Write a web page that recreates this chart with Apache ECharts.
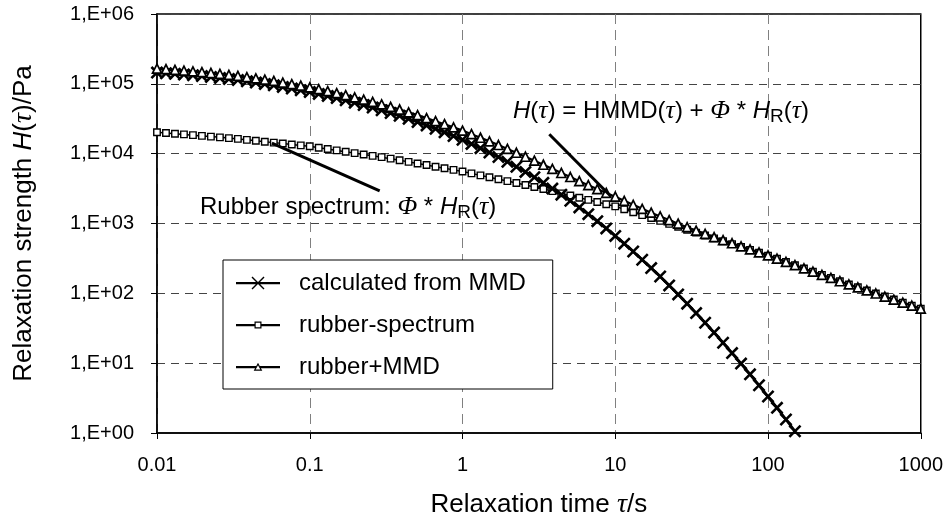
<!DOCTYPE html>
<html>
<head>
<meta charset="utf-8">
<script src="https://cdn.jsdelivr.net/npm/echarts@6/dist/echarts.min.js"></script>
<style>
  html, body { margin: 0; padding: 0; background: #fff; }
  #chart { width: 946px; height: 524px; }
</style>
</head>
<body>
<div id="chart"></div>
<script>
// relaxation times (s), log spaced
const tau = [
  0.01, 0.01145, 0.01311, 0.01501, 0.01719, 0.01968, 0.02254, 0.02581, 0.02955, 0.03384, 0.03875, 0.04437, 0.0508, 0.05817, 0.06661, 0.07627, 0.08733,
  0.1, 0.1145, 0.1311, 0.1501, 0.1719, 0.1968, 0.2254, 0.2581, 0.2955, 0.3384, 0.3875, 0.4437, 0.508, 0.5817, 0.6661, 0.7627, 0.8733,
  1, 1.145, 1.311, 1.501, 1.719, 1.968, 2.254, 2.581, 2.955, 3.384, 3.875, 4.437, 5.08, 5.817, 6.661, 7.627, 8.733,
  10, 11.45, 13.11, 15.01, 17.19, 19.68, 22.54, 25.81, 29.55, 33.84, 38.75, 44.37, 50.8, 58.17, 66.61, 76.27, 87.33,
  100, 114.5, 131.1, 150.1, 171.9, 196.8, 225.4, 258.1, 295.5, 338.4, 387.5, 443.7, 508, 581.7, 666.1, 762.7, 873.3,
  1000
]

// calculated from MMD (ends below 1 Pa)
const mmd = [
  145000, 142000, 139000, 136000, 133000, 129000, 125600, 121700, 117600,
  113400, 109000, 104400, 99800, 95100, 90400, 85700, 81000,
  76300, 71700, 67100, 62600, 58200, 53800, 49700, 45700, 41900,
  38200, 34800, 31500, 28400, 25400, 22700, 20200, 17900,
  15800, 13800, 12000, 10400, 8950, 7650, 6490, 5480, 4590,
  3820, 3160, 2590, 2110, 1700, 1360, 1080, 850,
  664, 515, 397, 303, 230, 174, 130, 96.5, 71.2,
  52.1, 37.9, 27.4, 19.6, 13.95, 9.86, 6.92, 4.82,
  3.33, 2.29, 1.56, 1.06
]

// rubber spectrum
const rubber = [
  20300, 19800, 19320, 18860, 18410, 17970, 17550, 17130, 16720,
  16270, 15780, 15300, 14840, 14390, 13960, 13540, 13130,
  12740, 12180, 11650, 11140, 10650, 10180, 9740, 9310, 8910,
  8480, 8050, 7630, 7240, 6870, 6510, 6180, 5860,
  5560, 5220, 4890, 4590, 4310, 4050, 3800, 3560, 3340,
  3120, 2910, 2700, 2520, 2340, 2180, 2030, 1890,
  1760, 1600, 1450, 1320, 1200, 1090, 987, 897, 815,
  740, 673, 612, 557, 507, 461, 419, 381,
  347, 312, 281, 253, 227, 204, 184, 166, 149,
  134, 122, 110, 99.4, 90.0, 81.4, 73.6, 66.6, 60.3
]

// rubber + MMD
const total = [
  165000, 162000, 158000, 155000, 151000, 147000, 143000, 139000, 134000,
  130000, 125000, 120000, 115000, 110000, 104000, 99200, 94100,
  89000, 83900, 78800, 73700, 68900, 64000, 59400, 55000, 50800,
  46700, 42900, 39100, 35600, 32300, 29200, 26400, 23800,
  21400, 19000, 16900, 15000, 13300, 11700, 10300, 9040, 7930,
  6940, 6070, 5290, 4630, 4040, 3540, 3110, 2740,
  2420, 2110, 1850, 1620, 1430, 1260, 1120, 994, 886,
  792, 711, 639, 577, 521, 471, 426, 386,
  350, 314, 283, 254, 227, 204, 184, 166, 149,
  134, 122, 110, 99.4, 90.0, 81.4, 73.6, 66.6, 60.3
]

const seriesNames = ['calculated from MMD', 'rubber-spectrum', 'rubber+MMD']
const xTickLabels = ['0.01', '0.1', '1', '10', '100', '1000']
const yTickLabels = ['1,E+00', '1,E+01', '1,E+02', '1,E+03', '1,E+04', '1,E+05', '1,E+06']

const SANS = "'Liberation Sans', Arial, Helvetica, sans-serif"
const SERIF = "'Liberation Serif', 'Times New Roman', serif"

const pairs = (ys) => ys.map((v, i) => [tau[i], v])

// X marker
const crossPath = 'path://M0,1.4 L1.4,0 L10,8.6 L8.6,10 Z M8.6,0 L10,1.4 L1.4,10 L0,8.6 Z'

// legend icons: line with marker, plus empty room on the right
const corners = ' M0,0 L0.01,0 Z M58,14 L57.99,14 Z'
const iconCross = 'path://M0,6 L44,6 L44,8.2 L0,8.2 Z M15.5,1.5 L16.5,0.5 L28.5,12.5 L27.5,13.5 Z M27.5,0.5 L28.5,1.5 L16.5,13.5 L15.5,12.5 Z' + corners
const iconSquare = 'path://M0,6 L18.5,6 L18.5,8.2 L0,8.2 Z M25.5,6 L44,6 L44,8.2 L25.5,8.2 Z' +
  ' M18.5,3.5 L25.5,3.5 L25.5,10.5 L18.5,10.5 Z M19.7,4.7 L19.7,9.3 L24.3,9.3 L24.3,4.7 Z' + corners
const iconTri = 'path://M0,6 L20,6 L20,8.2 L0,8.2 Z M24,6 L44,6 L44,8.2 L24,8.2 Z' +
  ' M22,2.8 L26.3,10.8 L17.7,10.8 Z M22,5.3 L19.7,9.6 L24.3,9.6 Z' + corners

const richBase = {
  n: { fontFamily: SANS, fontSize: 24, lineHeight: 31, color: '#000' },
  i: { fontFamily: SANS, fontSize: 24, lineHeight: 31, fontStyle: 'italic', color: '#000' },
  g: { fontFamily: SERIF, fontSize: 26, lineHeight: 31, fontStyle: 'italic', color: '#000' },
  s: { fontFamily: SANS, fontSize: 19, lineHeight: 31, verticalAlign: 'bottom', color: '#000' }
}

const nameRich = {
  a: { fontFamily: SANS, fontSize: 26, lineHeight: 30, color: '#000' },
  i: { fontFamily: SANS, fontSize: 26, lineHeight: 30, fontStyle: 'italic', color: '#000' },
  g: { fontFamily: SERIF, fontSize: 28, lineHeight: 30, fontStyle: 'italic', color: '#000' }
}

const chart = echarts.init(document.getElementById('chart'))

const option = {
  animation: false,
  backgroundColor: '#fff',
  textStyle: { fontFamily: SANS },
  grid: {
    left: 157, right: 25, top: 14, bottom: 88,
    show: true, borderColor: '#000', borderWidth: 1.5
  },
  legend: {
    orient: 'vertical',
    left: 223,
    top: 260,
    selectedMode: false,
    itemWidth: 58,
    itemHeight: 14,
    itemGap: 14,
    padding: [9, 27, 8, 13],
    backgroundColor: '#fff',
    borderColor: '#000',
    borderWidth: 1,
    textStyle: { fontFamily: SANS, fontSize: 24, lineHeight: 28, color: '#000' },
    data: [
      { name: seriesNames[0], icon: iconCross, itemStyle: { color: '#000', borderWidth: 0 } },
      { name: seriesNames[1], icon: iconSquare, itemStyle: { color: '#000', borderWidth: 0 } },
      { name: seriesNames[2], icon: iconTri, itemStyle: { color: '#000', borderWidth: 0 } }
    ]
  },
  xAxis: {
    type: 'log',
    logBase: 10,
    min: 0.01,
    max: 1000,
    name: '{a|Relaxation time }{g|τ}{a|/s}',
    nameLocation: 'middle',
    nameGap: 57,
    nameTextStyle: { rich: nameRich },
    axisLine: { lineStyle: { color: '#000', width: 1.5 } },
    axisTick: { length: 6, lineStyle: { color: '#000', width: 1 } },
    minorTick: { show: false },
    axisLabel: {
      color: '#000', fontSize: 20, fontFamily: SANS, margin: 22,
      formatter: v => xTickLabels[Math.round(Math.log10(v)) + 2]
    },
    splitLine: { show: true, lineStyle: { color: '#808080', width: 1, type: [10, 6] } }
  },
  yAxis: {
    type: 'log',
    logBase: 10,
    min: 1,
    max: 1000000,
    name: '{a|Relaxation strength }{i|H}{a|(}{g|τ}{a|)/Pa}',
    nameLocation: 'middle',
    nameGap: 118,
    nameTextStyle: { rich: nameRich },
    axisLine: { lineStyle: { color: '#000', width: 1.5 } },
    axisTick: { length: 6, lineStyle: { color: '#000', width: 1 } },
    minorTick: { show: false },
    axisLabel: {
      color: '#000', fontSize: 20, fontFamily: SANS, margin: 23,
      formatter: v => yTickLabels[Math.round(Math.log10(v))]
    },
    splitLine: { show: true, lineStyle: { color: '#444', width: 1, type: [8, 6] } }
  },
  graphic: [
    {
      type: 'text',
      x: 200, y: 207,
      z: 100,
      style: {
        text: '{n|Rubber spectrum: }{g|Φ}{n| * }{i|H}{s|R}{n|(}{g|τ}{n|)}',
        rich: richBase,
        verticalAlign: 'middle'
      }
    },
    {
      type: 'text',
      x: 513, y: 111,
      z: 100,
      style: {
        text: '{i|H}{n|(}{g|τ}{n|) = HMMD(}{g|τ}{n|) + }{g|Φ}{n| * }{i|H}{s|R}{n|(}{g|τ}{n|)}',
        rich: richBase,
        verticalAlign: 'middle'
      }
    }
  ],
  series: [
    {
      name: seriesNames[0],
      type: 'line',
      data: pairs(mmd),
      showAllSymbol: true,
      symbol: crossPath,
      symbolSize: 13,
      itemStyle: { color: '#000' },
      lineStyle: { color: '#000', width: 2.8 },
      z: 3
    },
    {
      name: seriesNames[1],
      type: 'line',
      data: pairs(rubber),
      showAllSymbol: true,
      symbol: 'rect',
      symbolSize: 6.5,
      itemStyle: { color: '#fff', borderColor: '#000', borderWidth: 1.4 },
      lineStyle: { color: '#000', width: 1.5 },
      z: 2,
      markLine: {
        silent: true,
        symbol: ['none', 'none'],
        label: { show: false },
        lineStyle: { color: '#000', width: 3, type: 'solid' },
        data: [
          [{ coord: [0.0565, 14200] }, { coord: [0.287, 2940] }],
          [{ coord: [3.7, 19000] }, { coord: [9.42, 2420] }]
        ]
      }
    },
    {
      name: seriesNames[2],
      type: 'line',
      data: pairs(total),
      showAllSymbol: true,
      symbol: 'triangle',
      symbolSize: 9,
      itemStyle: { color: '#fff', borderColor: '#000', borderWidth: 1.7 },
      lineStyle: { color: '#000', width: 2.2 },
      z: 4
    }
  ]
}

chart.setOption(option)
</script>
</body>
</html>
